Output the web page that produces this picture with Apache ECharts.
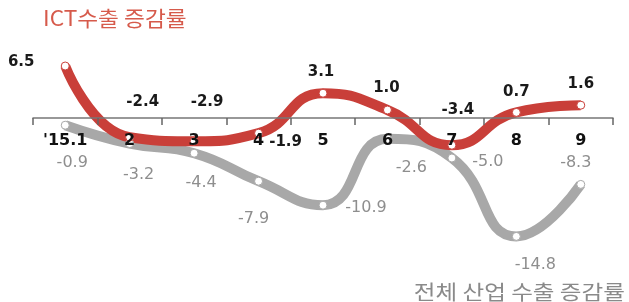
<!DOCTYPE html>
<html>
	<head>
		<meta charset="utf-8">
		<title></title>
		<script src="https://cdn.jsdelivr.net/npm/echarts@6/dist/echarts.min.js"></script>
		<style>
			html, body { margin: 0; padding: 0; background: #fff; }
		</style>
	</head>
	<body>
		<div id="main" style="width: 629px;height:302px;"></div>
		<script>
			// 월별 수출 증감률 (%)
			var months = ["'15.1", "2", "3", "4", "5", "6", "7", "8", "9"];
			var ict_rate = [6.5, -2.4, -2.9, -1.9, 3.1, 1.0, -3.4, 0.7, 1.6];
			var total_rate = [-0.9, -3.2, -4.4, -7.9, -10.9, -2.6, -5.0, -14.8, -8.3];
			var ict_name = "ICT수출 증감률";
			var total_name = "전체 산업 수출 증감률";

			// label offsets (styling only)
			var ict_label_offset = [[-44, -4], [13, -35], [13, -39], [27, 9], [-2, -21], [-1, -22], [6, -35], [0, -20], [0, -21]];
			var total_label_offset = [[7, 38], [9, 31], [7, 30], [-5, 38], [43, 3], [24, 29], [36, 4], [19, 28], [-5, -22]];

			function make_data(values, offsets){
				var arr = [];
				for(var i = 0; i < values.length; i++){
					arr.push({value: values[i], label: {offset: offsets[i]}});
				}
				return arr;
			}

			var fmt = function(p){ return p.value.toFixed(1); };

			var myChart = echarts.init(document.getElementById('main'));

			var option = {
				animation: false,
				grid: {left: 33, right: 16, top: 54, bottom: 56},
				xAxis: {
					type: 'category',
					data: months,
					boundaryGap: true,
					zlevel: 1,
					offset: -128,   // 0 선 위치로 올림
					axisLine: {onZero: false, lineStyle: {color: '#777', width: 1.5}},
					axisTick: {show: true, interval: 0, inside: false, length: 7, lineStyle: {color: '#666', width: 1.5}},
					axisLabel: {
						margin: 15,
						color: '#111',
						fontFamily: 'DejaVu Sans',
						fontWeight: 'bold',
						fontSize: 16
					}
				},
				yAxis: {
					type: 'value',
					min: -16,
					max: 8,
					show: false
				},
				graphic: [
					{
						type: 'text', left: 43, top: 8, scaleX: 1.08,
						style: {text: ict_name, fill: '#d65a4b', font: '21px "Noto Sans CJK KR"'}
					},
					{
						type: 'text', right: 4, top: 282, scaleX: 1.18,
						style: {text: total_name, fill: '#8a8a8a', font: '20px "Noto Sans CJK KR"'}
					}
				],
				series: [
					{
						name: total_name,
						type: 'line',
						smooth: 0.5,
						data: make_data(total_rate, total_label_offset),
						symbol: 'circle',
						symbolSize: 8,
						itemStyle: {color: '#ffffff', borderColor: '#a8a8a8', borderWidth: 1},
						lineStyle: {color: '#a8a8a8', width: 10},
						label: {
							show: true,
							position: 'inside',
							color: '#8e8e8e',
							fontFamily: 'DejaVu Sans',
							fontSize: 16,
							formatter: fmt
						}
					},
					{
						name: ict_name,
						type: 'line',
						smooth: 0.5,
						data: make_data(ict_rate, ict_label_offset),
						symbol: 'circle',
						symbolSize: 8,
						itemStyle: {color: '#ffffff', borderColor: '#c93f39', borderWidth: 1},
						lineStyle: {color: '#c93f39', width: 10},
						label: {
							show: true,
							position: 'inside',
							color: '#1a1a1a',
							fontFamily: 'DejaVu Sans',
							fontWeight: 'bold',
							fontSize: 15,
							formatter: fmt
						}
					}
				]
			};

			myChart.setOption(option);
		</script>
	</body>
</html>
